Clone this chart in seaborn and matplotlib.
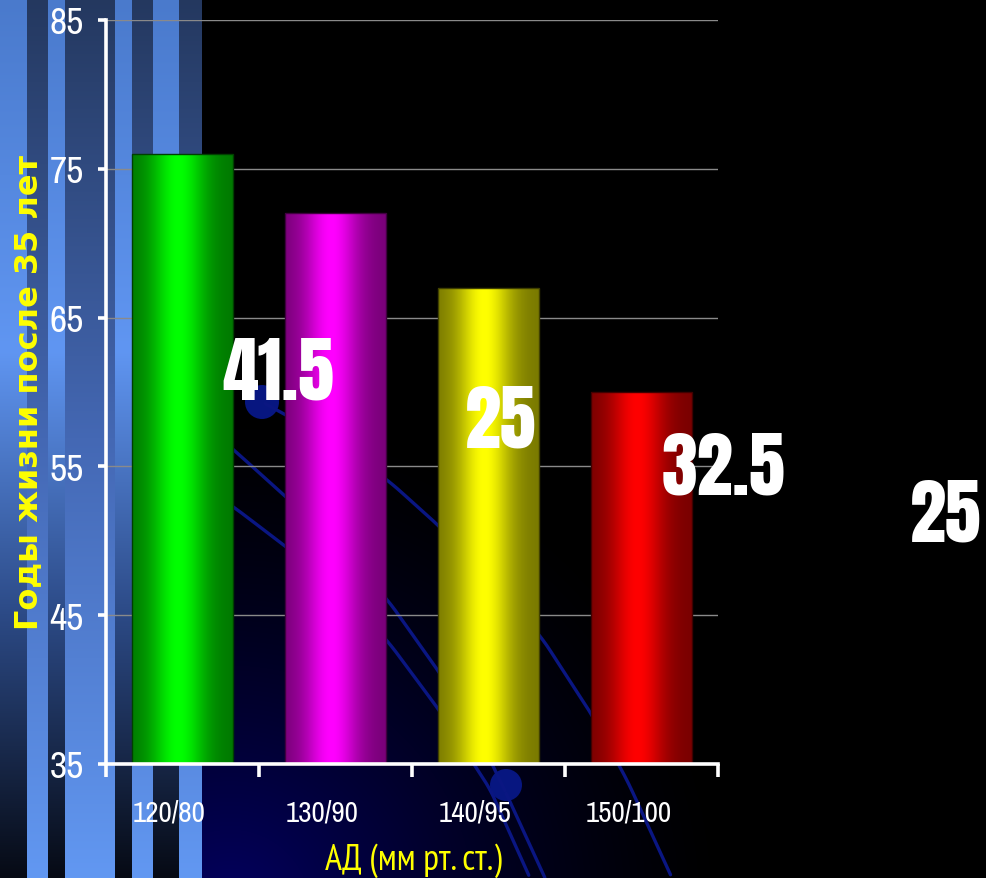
import numpy as np
import matplotlib
matplotlib.use("Agg")
import matplotlib.pyplot as plt
from matplotlib.colors import to_rgb
from matplotlib.patches import Circle
from matplotlib.transforms import ScaledTranslation
import seaborn as sns

# ---- data ----
categories = ["120/80", "130/90", "140/95", "150/100"]
years = [76, 72, 67, 60]
bar_colors = ["#00ff00", "#ff00ff", "#ffff00", "#ff0000"]
callouts = ["41.5", "25", "32.5", "25"]
y_ticks = [35, 45, 55, 65, 75, 85]
y_title = "Годы жизни после 35 лет"
x_title = "АД (мм рт. ст.)"

sns.set_theme(style="ticks")
NARROW = ["PT Sans Narrow", "Roboto Condensed", "Fira Sans Condensed",
          "Liberation Sans Narrow", "DejaVu Sans"]
DIGITS = ["Archivo Narrow", "PT Sans Narrow", "Liberation Sans Narrow", "DejaVu Sans"]
HEAVY = ["Anton", "Bebas Neue", "Liberation Sans Narrow", "DejaVu Sans"]
plt.rcParams["font.family"] = NARROW

W, H = 986, 879
fig = plt.figure(figsize=(W / 100, H / 100), dpi=100, facecolor="black")


# ---- slide background: striped panel, navy glow, swooshes ----
def ramp(stops, n):
    pos = np.array([s[0] for s in stops])
    cols = np.array([to_rgb(s[1]) for s in stops])
    t = np.linspace(0, 1, n)
    return np.stack([np.interp(t, pos, cols[:, k]) for k in range(3)], axis=1)


bg = fig.add_axes([0, 0, 1, 1], zorder=-10)
bg.set_xlim(0, W)
bg.set_ylim(H, 0)
bg.axis("off")

yy, xx = np.mgrid[0:H, 0:W]
img = np.zeros((H, W, 3))
dist = np.hypot(xx - 230, yy - 910)
glow = np.clip(1 - dist / 500, 0, 1) ** 1.4
img[..., 2] = 0.38 * glow
img[..., 0] = 0.01 * glow

stripe_edges = [0, 27, 48, 65, 115, 132, 153, 179, 202]
fade_down = ramp([(0, "#4a7acc"), (0.4, "#6096f2"), (0.7, "#2c4a86"), (1, "#060a14")], H)
fade_up = ramp([(0, "#24385f"), (0.5, "#4468b4"), (1, "#6298f2")], H)
for i in range(len(stripe_edges) - 1):
    a, b = stripe_edges[i], stripe_edges[i + 1]
    col = fade_down if i % 2 == 0 else fade_up
    img[:, a:b, :] = col[:, None, :]
bg.imshow(img, extent=(0, W, H, 0), aspect="auto", interpolation="bilinear")


def smooth(pts, n=200):
    p = np.asarray(pts, float)
    seg = np.r_[0, np.cumsum(np.hypot(*np.diff(p, axis=0).T))]
    s = np.linspace(0, seg[-1], n)
    x = np.interp(s, seg, p[:, 0])
    y = np.interp(s, seg, p[:, 1])
    k = np.ones(9) / 9
    xs = np.convolve(np.pad(x, 4, mode="edge"), k, mode="valid")
    ys = np.convolve(np.pad(y, 4, mode="edge"), k, mode="valid")
    return xs, ys


swooshes = [
    [(190, 412), (235, 452), (285, 497), (340, 548), (390, 604), (439, 673), (480, 740), (506, 794)],
    [(262, 403), (330, 440), (390, 483), (439, 527), (490, 580), (542, 639), (592, 716), (628, 783), (672, 879)],
    [(190, 478), (235, 509), (285, 547), (340, 590), (390, 645), (439, 711), (490, 790), (530, 879)],
    [(506, 794), (545, 879)],
]
for pts in swooshes:
    sx, sy = smooth(pts)
    bg.plot(sx, sy, color="#0a1682", lw=2.4, solid_capstyle="round")
for cx, cy, r in [(262, 403, 17), (506, 786, 16)]:
    bg.add_patch(Circle((cx, cy), r, facecolor="#071680", edgecolor="none"))

# ---- chart ----
ax = fig.add_axes([106 / W, 1 - 765 / H, 612 / W, 744 / H])
ax.patch.set_alpha(0)

sns.barplot(x=categories, y=years, hue=categories, palette=bar_colors,
            legend=False, width=0.66, saturation=1, ax=ax)

y_lo, y_hi = y_ticks[0], y_ticks[-1]

# cylinder shading on each bar
tt = np.linspace(0, 1, 256)
shade = 0.47 + 0.53 * np.exp(-((tt - 0.46) / 0.27) ** 2)
bars = sorted(ax.patches, key=lambda p: p.get_x())
for patch, base in zip(bars, bar_colors):
    rgb = np.array(to_rgb(base))
    grad = rgb[None, :] * shade[:, None]
    x0, w, h = patch.get_x(), patch.get_width(), patch.get_height()
    im = ax.imshow(grad[None, :, :], extent=(x0, x0 + w, y_lo, h), aspect="auto",
                   interpolation="bilinear", zorder=2)
    im.set_clip_path(patch)
    patch.set_facecolor("none")
    patch.set_edgecolor(tuple(rgb * 0.25))
    patch.set_linewidth(1.0)
    patch.set_zorder(2.5)

ax.set_xlim(-0.5, len(categories) - 0.5)
ax.set_ylim(y_lo, y_hi)
ax.set_yticks(y_ticks)
ax.yaxis.grid(True, color="#8a8a8a", lw=1.0)
ax.xaxis.grid(False)
ax.set_axisbelow(True)

for side in ("top", "right"):
    ax.spines[side].set_visible(False)
for side in ("left", "bottom"):
    ax.spines[side].set_color("white")
    ax.spines[side].set_linewidth(2.6)
    ax.spines[side].set_zorder(4)

ax.tick_params(axis="y", colors="white", direction="out", length=6, width=2.6,
               pad=10, labelsize=27)
ax.set_xticks(range(len(categories)))
ax.set_xticklabels(categories)
ax.set_xticks(np.arange(len(categories) + 1) - 0.5, minor=True)
ax.tick_params(axis="x", which="major", length=0, pad=25, labelsize=21,
               labelcolor="white")
ax.tick_params(axis="x", which="minor", length=9, width=2.6, color="white",
               direction="out")

shift = ScaledTranslation(-0.13, 0, fig.dpi_scale_trans)
for lbl in ax.get_xticklabels():
    lbl.set_family(DIGITS)
    lbl.set_transform(lbl.get_transform() + shift)
for lbl in ax.get_yticklabels():
    lbl.set_family(DIGITS)

ax.set_xlabel(x_title, color="#ffff00", fontsize=26, va="baseline")
ax.xaxis.set_label_coords(0.503, -0.141)
ax.set_ylabel(y_title, color="#ffff00", fontsize=23, fontweight="bold",
              family=["DejaVu Sans"], va="baseline", ha="center")
ax.yaxis.set_label_coords(-0.112, 0.501)

for i, lab in enumerate(callouts):
    ax.text(0.625 + 1.455 * i, 59.53 - 3.18 * i, lab, ha="center", va="baseline",
            fontsize=52, color="white", clip_on=False, zorder=6, family=HEAVY)

fig.savefig("out.png", dpi=100, facecolor="black")
